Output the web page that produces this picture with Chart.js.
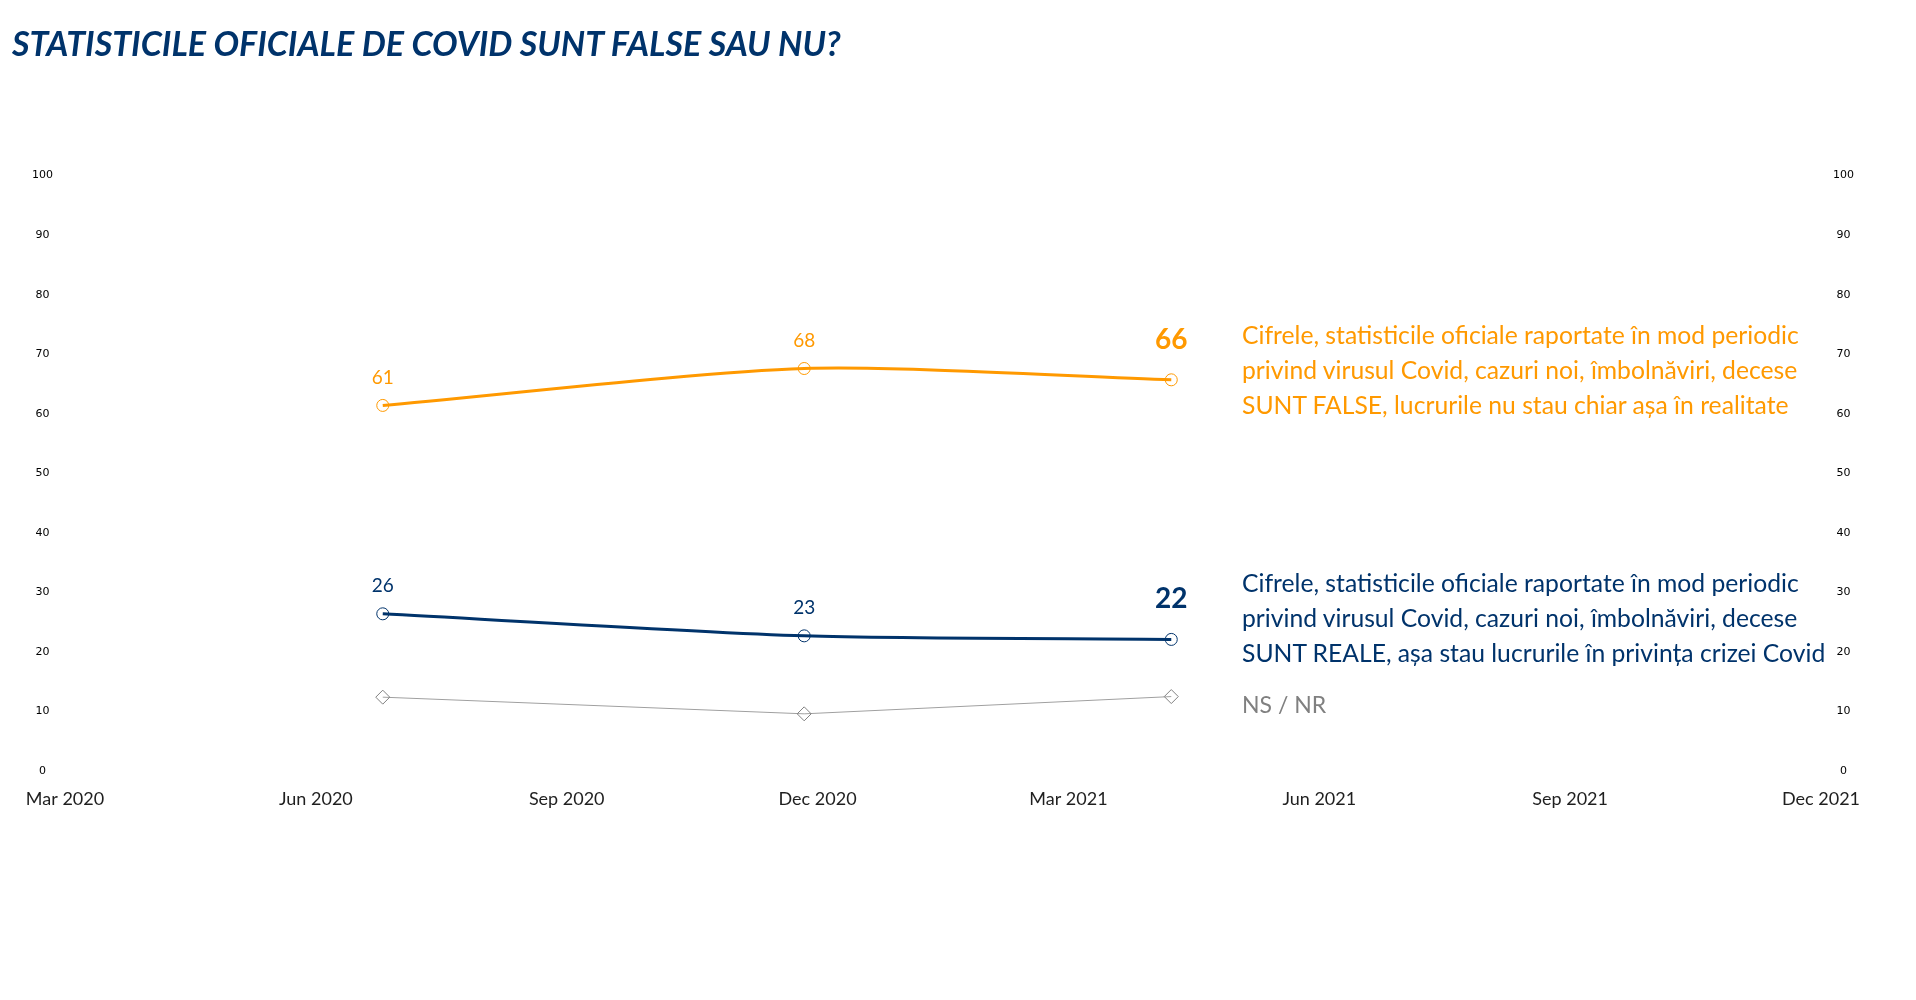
<!DOCTYPE html>
<html>
<head>
<meta charset="UTF-8">
<title>Statisticile oficiale de Covid</title>
<style>
    body {
        margin: 0;
        background: #ffffff;
        font-family: Lato, 'Open Sans', sans-serif;
    }
    #wrap {
        position: relative;
        width: 1916px;
        height: 1000px;
    }
    #chart {
        position: absolute;
        left: 0;
        top: 0;
    }
    #title {
        position: absolute;
        left: 12px;
        top: 22px;
        font-size: 34px;
        font-weight: bold;
        font-style: italic;
        color: #00336b;
        white-space: nowrap;
    }
    .note {
        position: absolute;
        left: 1242px;
        font-size: 24.7px;
        line-height: 35px;
        white-space: nowrap;
    }
    #noteFalse { top: 317px; color: #ff9900; }
    #noteReal { top: 565px; color: #00336b; }
    #noteNs { top: 687px; color: #808080; font-size: 23px; }
</style>
<script src="https://cdn.jsdelivr.net/npm/chart.js@4.4.0/dist/chart.umd.min.js"></script>
</head>
<body>
<div id="wrap">
    <canvas id="chart" width="1916" height="1000"></canvas>
    <div id="title">STATISTICILE OFICIALE DE COVID SUNT FALSE SAU NU?</div>
    <div class="note" id="noteFalse">Cifrele, statisticile oficiale raportate în mod periodic<br>privind virusul Covid, cazuri noi, îmbolnăviri, decese<br>SUNT FALSE, lucrurile nu stau chiar așa în realitate</div>
    <div class="note" id="noteReal">Cifrele, statisticile oficiale raportate în mod periodic<br>privind virusul Covid, cazuri noi, îmbolnăviri, decese<br>SUNT REALE, așa stau lucrurile în privința crizei Covid</div>
    <div class="note" id="noteNs">NS / NR</div>
</div>

<script>
// axa X: luni de la Mar 2020, etichete la fiecare 3 luni
var tickLabels = ['Mar 2020', 'Jun 2020', 'Sep 2020', 'Dec 2020', 'Mar 2021', 'Jun 2021', 'Sep 2021', 'Dec 2021'];
var surveyX = [3.8, 8.84, 13.23];   // momentul sondajelor (luni dupa Mar 2020)

var falseValues = [61.4, 67.6, 65.7];
var realValues = [26.4, 22.7, 22.1];
var nsValues = [12.4, 9.6, 12.5];

var ORANGE = '#ff9900';
var NAVY = '#00336b';
var GREY = '#a0a0a0';

function points(values) {
    return values.map(function (v, i) { return { x: surveyX[i], y: v }; });
}

// etichete cu valori deasupra punctelor, ultima mai mare si bold
var valueLabels = {
    id: 'valueLabels',
    afterDatasetsDraw: function (chart) {
        var ctx = chart.ctx;
        chart.data.datasets.forEach(function (ds, di) {
            if (!ds.showValues) return;
            var meta = chart.getDatasetMeta(di);
            meta.data.forEach(function (pt, i) {
                var last = i === meta.data.length - 1;
                ctx.save();
                ctx.fillStyle = ds.borderColor;
                ctx.font = last ? 'bold 28px Lato' : '19px Lato';
                ctx.textAlign = 'center';
                ctx.textBaseline = 'middle';
                ctx.fillText(Math.round(ds.data[i].y), pt.x, pt.y - (last ? 40 : 28));
                ctx.restore();
            });
        });
    }
};

var yTicks = {
    stepSize: 10,
    crossAlign: 'center',
    padding: 12,
    color: '#000000',
    font: { family: 'DejaVu Sans', size: 11 }
};

new Chart(document.getElementById('chart').getContext('2d'), {
    type: 'line',
    data: {
        datasets: [{
            label: 'SUNT FALSE',
            data: points(falseValues),
            borderColor: ORANGE,
            borderWidth: 3,
            tension: 0.25,
            pointStyle: 'circle',
            pointRadius: 6,
            pointBorderWidth: 1,
            pointBorderColor: ORANGE,
            pointBackgroundColor: 'rgba(0,0,0,0)',
            showValues: true
        }, {
            label: 'SUNT REALE',
            data: points(realValues),
            borderColor: NAVY,
            borderWidth: 3,
            tension: 0.25,
            pointStyle: 'circle',
            pointRadius: 6,
            pointBorderWidth: 1,
            pointBorderColor: NAVY,
            pointBackgroundColor: 'rgba(0,0,0,0)',
            showValues: true
        }, {
            label: 'NS / NR',
            data: points(nsValues),
            borderColor: GREY,
            borderWidth: 1,
            tension: 0,
            pointStyle: 'rectRot',
            pointRadius: 7,
            pointBorderWidth: 1,
            pointBorderColor: '#808080',
            pointBackgroundColor: 'rgba(0,0,0,0)',
            showValues: false
        }]
    },
    options: {
        responsive: false,
        animation: false,
        layout: { padding: { top: 175.6, left: 0, right: 0, bottom: 0 } },
        plugins: {
            legend: { display: false },
            tooltip: { enabled: false }
        },
        scales: {
            x: {
                type: 'linear',
                min: 0,
                max: 21,
                grid: { display: false, drawTicks: false },
                border: { display: false },
                afterFit: function (scale) { scale.height = 229; },
                ticks: {
                    stepSize: 3,
                    maxRotation: 0,
                    autoSkip: false,
                    padding: 17,
                    color: '#1f1f1f',
                    font: { family: 'Lato', size: 18 },
                    callback: function (v) { return tickLabels[v / 3]; }
                }
            },
            y: {
                position: 'left',
                min: 0,
                max: 100,
                grid: { display: false, drawTicks: false },
                border: { display: false },
                afterFit: function (scale) { scale.width = 65; },
                ticks: yTicks
            },
            y2: {
                position: 'right',
                min: 0,
                max: 100,
                grid: { display: false, drawTicks: false },
                border: { display: false },
                afterFit: function (scale) { scale.width = 95; },
                ticks: yTicks
            }
        }
    },
    plugins: [valueLabels]
});
</script>
</body>
</html>
